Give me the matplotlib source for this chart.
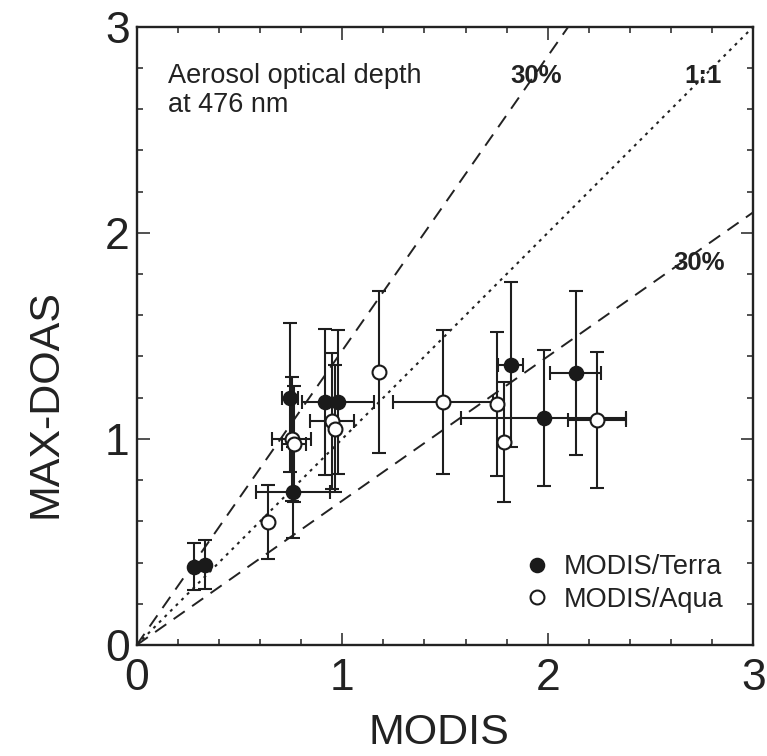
import numpy as np
import matplotlib
matplotlib.use("Agg")
import matplotlib.pyplot as plt

plt.rcParams['font.family'] = ['Liberation Sans', 'DejaVu Sans']

# MODIS/Terra (filled)
terra_x = np.array([0.28, 0.33, 0.745, 0.76, 0.915, 0.98, 1.82, 1.98, 2.135])
terra_y = np.array([0.38, 0.39, 1.20, 0.74, 1.18, 1.18, 1.36, 1.10, 1.32])
terra_yerr = np.array([0.115, 0.12, 0.36, 0.22, 0.355, 0.35, 0.40, 0.33, 0.40])
terra_xerr = np.array([0.0, 0.0, 0.04, 0.18, 0.0, 0.175, 0.06, 0.40, 0.125])

# MODIS/Aqua (open)
aqua_x = np.array([0.64, 0.755, 0.765, 0.95, 0.965, 1.18, 1.49, 1.755, 1.785, 2.24])
aqua_y = np.array([0.595, 1.00, 0.975, 1.085, 1.05, 1.325, 1.18, 1.17, 0.985, 1.09])
aqua_yerr = np.array([0.18, 0.30, 0.28, 0.33, 0.31, 0.395, 0.35, 0.35, 0.29, 0.33])
aqua_xerr = np.array([0.0, 0.095, 0.06, 0.105, 0.0, 0.0, 0.245, 0.0, 0.0, 0.14])

ref_slopes = [1 / 0.7, 1.0, 0.7]
ref_labels = ['30%', '1:1', '30%']

fig = plt.figure(figsize=(7.67, 7.56), dpi=100)
ax = fig.add_axes([0.1782, 0.1468, 0.8040, 0.8179])

lw = 1.5
# reference lines
ax.axline((0, 0), slope=ref_slopes[0], color='#222222', lw=1.4, linestyle=(0, (7.0, 4.6)), zorder=1)
ax.axline((0, 0), slope=ref_slopes[1], color='#222222', lw=1.5, linestyle=(0, (1.4, 2.4)), zorder=1)
ax.axline((0, 0), slope=ref_slopes[2], color='#222222', lw=1.4, linestyle=(0, (7.0, 4.6)), zorder=1)

ekw = dict(fmt='none', ecolor='#1e1e1e', elinewidth=lw, capsize=4.7, capthick=lw, zorder=2)
ax.errorbar(terra_x, terra_y, yerr=terra_yerr, **ekw)
ax.errorbar(aqua_x, aqua_y, yerr=aqua_yerr, **ekw)
mt = terra_xerr > 0
ma = aqua_xerr > 0
ax.errorbar(terra_x[mt], terra_y[mt], xerr=terra_xerr[mt], **ekw)
ax.errorbar(aqua_x[ma], aqua_y[ma], xerr=aqua_xerr[ma], **ekw)

ax.plot(terra_x, terra_y, 'o', ms=10, mfc='#1a1a1a', mec='#1a1a1a', mew=1.2,
        label='MODIS/Terra', zorder=3)
ax.plot(aqua_x, aqua_y, 'o', ms=10, mfc='white', mec='#1a1a1a', mew=1.5,
        label='MODIS/Aqua', zorder=3)

ax.set_xlim(0, 3)
ax.set_ylim(0, 3)
ax.set_xticks([0, 1, 2, 3])
ax.set_yticks([0, 1, 2, 3])
ax.set_xticks(np.arange(0, 3.01, 0.2), minor=True)
ax.set_yticks(np.arange(0, 3.01, 0.2), minor=True)
ax.tick_params(which='both', direction='in', top=True, right=True, width=1.1, color='#222222')
ax.tick_params(which='major', length=9, pad=5, labelsize=32, labelcolor='#222222')
ax.tick_params(which='minor', length=4.5)
ax.tick_params(axis='x', which='major', pad=9)
for s in ax.spines.values():
    s.set_linewidth(1.7)
    s.set_color('#222222')

ax.set_xlabel('MODIS', fontsize=31, color='#222222')
ax.set_ylabel('MAX-DOAS', fontsize=31, color='#222222')
ax.xaxis.set_label_coords(0.49, -0.11)
ax.yaxis.set_label_coords(-0.115, 0.39)

ax.text(0.152, 2.728, 'Aerosol optical depth', fontsize=19.5, color='#222222', va='baseline', ha='left')
ax.text(0.152, 2.587, 'at 476 nm', fontsize=19.5, color='#222222', va='baseline', ha='left')
ax.text(1.818, 2.726, ref_labels[0], fontsize=18.5, fontweight='bold', color='#222222', va='baseline', ha='left')
ax.text(2.847, 2.727, ref_labels[1], fontsize=18.5, fontweight='bold', color='#222222', va='baseline', ha='right')
ax.text(2.61, 1.82, ref_labels[2], fontsize=18.5, fontweight='bold', color='#222222', va='baseline', ha='left')

leg = ax.legend(loc='upper left', bbox_to_anchor=(0.627, 0.147), frameon=False, fontsize=19.5,
                handlelength=1.0, handletextpad=0.5, labelspacing=0.25, borderpad=0,
                borderaxespad=0, markerscale=1.0)
for t in leg.get_texts():
    t.set_color('#222222')

fig.savefig('out.png', dpi=100)
